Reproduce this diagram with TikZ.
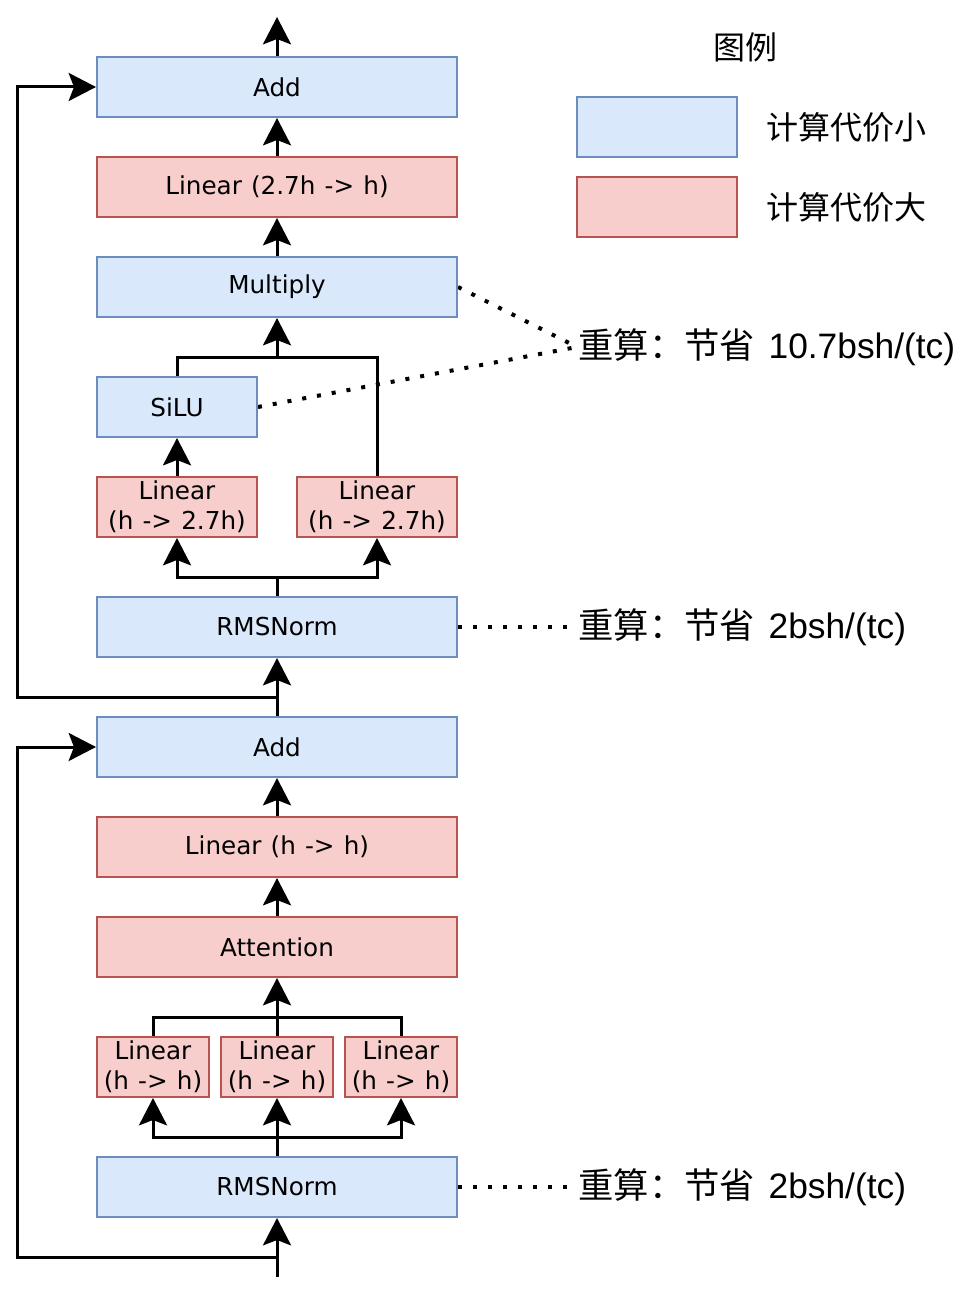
\documentclass[tikz,border=0pt]{standalone}
\usepackage{fontspec}
\setmainfont{DejaVu Sans}
\newfontfamily\cjk{Noto Sans CJK SC}
\newfontfamily\arial{Liberation Sans}
\usepackage{tikz}
\usetikzlibrary{arrows.meta,positioning,calc}
\pgfdeclarelayer{edgelayer}
\pgfdeclarelayer{nodelayer}
\pgfsetlayers{edgelayer,nodelayer,main}
\newcommand{\blockfont}{\fontsize{18.5}{22.5}\selectfont\spaceskip 0.37em\relax}
\tikzstyle{none}=[inner sep=0mm]
\tikzstyle{block}=[draw,line width=1.5pt,minimum width=270pt,minimum height=45pt,inner sep=0pt,align=center,font=\blockfont]
\tikzstyle{bn}=[block,fill={rgb,255:red,218;green,232;blue,252},draw={rgb,255:red,108;green,142;blue,191}]
\tikzstyle{rn}=[block,fill={rgb,255:red,248;green,206;blue,204},draw={rgb,255:red,184;green,84;blue,80}]
\tikzstyle{half}=[minimum width=120pt]
\tikzstyle{third}=[minimum width=84pt]
\tikzstyle{wire}=[line width=2.25pt]
\tikzstyle{diredge}=[wire,-{Stealth[length=20.5pt,width=21pt,inset=4pt]}]
\tikzstyle{dotline}=[line width=3pt,dash pattern=on 3pt off 8.25pt]
\tikzstyle{note}=[inner sep=1pt,anchor=west,font=\fontsize{26.5}{30}\selectfont]
\tikzstyle{legend}=[inner sep=0pt,font=\cjk\fontsize{24}{30}\selectfont]

\begin{document}
\begin{tikzpicture}[x=0.75pt,y=-0.75pt]
	\useasboundingbox (0,0) rectangle (978,1294);
	\begin{pgfonlayer}{nodelayer}
		% upper block (MLP)
		\node [style=bn] (add2) at (277, 87) {Add};
		\node [style=rn] (down) at (277, 187) {Linear (2.7h -> h)};
		\node [style=bn] (mul) at (277, 287) {Multiply};
		\node [style=bn, style=half] (silu) at (177, 407) {SiLU};
		\node [style=rn, style=half] (gate) at (177, 507) {Linear\\(h -> 2.7h)};
		\node [style=rn, style=half] (up) at (377, 507) {Linear\\(h -> 2.7h)};
		\node [style=bn] (rms2) at (277, 627) {RMSNorm};
		% lower block (attention)
		\node [style=bn] (add1) at (277, 747) {Add};
		\node [style=rn] (proj) at (277, 847) {Linear (h -> h)};
		\node [style=rn] (attn) at (277, 947) {Attention};
		\node [style=rn, style=third] (q) at (153, 1067) {Linear\\(h -> h)};
		\node [style=rn, style=third] (k) at (277, 1067) {Linear\\(h -> h)};
		\node [style=rn, style=third] (v) at (401, 1067) {Linear\\(h -> h)};
		\node [style=bn] (rms1) at (277, 1187) {RMSNorm};
		% junctions
		\node [style=none] (in) at (277, 1277) {};
		\node [style=none] (out) at (277, 17) {};
		\node [style=none] (r1) at (277, 1257) {};
		\node [style=none] (r1a) at (17, 1257) {};
		\node [style=none] (r1b) at (17, 747) {};
		\node [style=none] (r2) at (277, 697) {};
		\node [style=none] (r2a) at (17, 697) {};
		\node [style=none] (r2b) at (17, 87) {};
		\node [style=none] (j1) at (277, 1137) {};
		\node [style=none] (j2) at (277, 1017) {};
		\node [style=none] (j3) at (277, 577) {};
		\node [style=none] (j4) at (277, 357) {};
		% notes
		\node [style=note] (t1) at (577, 347) {{\cjk 重算：节省}\hspace{10pt}{\arial 10.7bsh/(tc)}};
		\node [style=note] (t2) at (577, 627) {{\cjk 重算：节省}\hspace{10pt}{\arial 2bsh/(tc)}};
		\node [style=note] (t3) at (577, 1187) {{\cjk 重算：节省}\hspace{10pt}{\arial 2bsh/(tc)}};
		% legend
		\node [style=legend] (lt) at (745, 47) {图例};
		\node [style=bn, style=half] (lb) at (657, 127) {};
		\node [style=rn, style=half] (lr) at (657, 207) {};
		\node [style=legend, anchor=west] (lbt) at (766, 127) {计算代价小};
		\node [style=legend, anchor=west] (lrt) at (766, 207) {计算代价大};
	\end{pgfonlayer}
	\begin{pgfonlayer}{edgelayer}
		\draw [style=diredge] (in.center) to (rms1);
		\draw [style=diredge] (rms1) to (k);
		\draw [style=diredge] (j1.center) -| (q.south);
		\draw [style=diredge] (j1.center) -| (v.south);
		\draw [style=wire] (q.north) |- (j2.center) -| (v.north);
		\draw [style=diredge] (k) to (attn);
		\draw [style=diredge] (attn) to (proj);
		\draw [style=diredge] (proj) to (add1);
		\draw [style=diredge] (r1.center) to (r1a.center) to (r1b.center) to (add1);
		\draw [style=diredge] (add1) to (rms2);
		\draw [style=diredge] (r2.center) to (r2a.center) to (r2b.center) to (add2);
		\draw [style=wire] (rms2) to (j3.center);
		\draw [style=diredge] (j3.center) -| (gate.south);
		\draw [style=diredge] (j3.center) -| (up.south);
		\draw [style=diredge] (gate) to (silu);
		\draw [style=wire] (silu.north) |- (j4.center) -| (up.north);
		\draw [style=diredge] (j4.center) to (mul);
		\draw [style=diredge] (mul) to (down);
		\draw [style=diredge] (down) to (add2);
		\draw [style=diredge] (add2) to (out.center);
		\draw [style=dotline] (mul.east) to (t1.west);
		\draw [style=dotline] (silu.east) to (t1.west);
		\draw [style=dotline] (rms2.east) to (t2.west);
		\draw [style=dotline] (rms1.east) to (t3.west);
	\end{pgfonlayer}
\end{tikzpicture}
\end{document}
